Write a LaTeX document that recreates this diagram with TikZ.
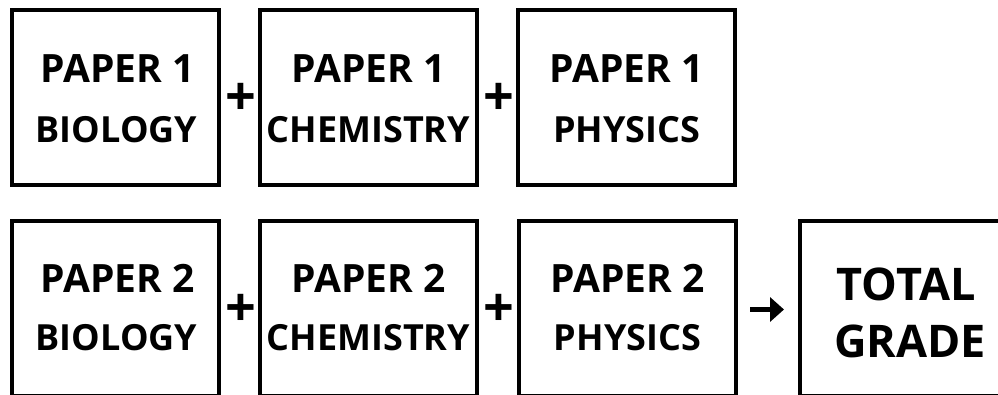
\documentclass[tikz,border=0pt]{standalone}
\usepackage{fontspec}
\setmainfont{Open Sans}
\usetikzlibrary{calc,arrows.meta}
\begin{document}
\begin{tikzpicture}[x=1pt,y=-1pt,
  box/.style={draw=black,line width=4pt,fill=white,rectangle,inner sep=0pt,minimum height=175pt},
  topline/.style={anchor=base,inner sep=0pt,font=\fontsize{39}{39}\selectfont\bfseries},
  subline/.style={anchor=base,inner sep=0pt,font=\fontsize{36}{36}\selectfont\bfseries},
  bigline/.style={anchor=base,inner sep=0pt,font=\fontsize{45}{45}\selectfont\bfseries},
  plus/.style={inner sep=0pt,font=\fontsize{54}{54}\selectfont\bfseries},
  arr/.style={line width=5.5pt,-{Triangle[length=14pt,width=24pt]},shorten <=12pt,shorten >=14pt}]
\useasboundingbox (0,0) rectangle (998,394);
\fill[white] (0,0) rectangle (998,394);
\clip (0,0) rectangle (998,394);
% row 1
\node[box,minimum width=207pt] (b1) at (115.5,97.75) {};
\node[box,minimum width=217pt] (b2) at (368.5,97.75) {};
\node[box,minimum width=217pt] (b3) at (626.75,97.75) {};
% row 2
\node[box,minimum width=207pt] (b4) at (115.5,308.5) {};
\node[box,minimum width=217pt] (b5) at (368.5,308.5) {};
\node[box,minimum width=217pt] (b6) at (627.5,308.5) {};
\node[box,minimum width=216pt] (tot) at (908,308.5) {};
% texts
\node[topline] (t1a) at ($(b1.center)+(2,-15.75)$) {PAPER 1};
\node[subline] (t1b) at ($(b1.center)+(1,44.25)$) {BIOLOGY};
\node[topline] (t2a) at ($(b2.center)+(0,-15.75)$) {PAPER 1};
\node[subline] (t2b) at ($(b2.center)+(0,44.25)$) {CHEMISTRY};
\node[topline] (t3a) at ($(b3.center)+(0,-15.75)$) {PAPER 1};
\node[subline] (t3b) at ($(b3.center)+(0,44.25)$) {PHYSICS};
\node[topline] (t4a) at ($(b4.center)+(2,-16)$) {PAPER 2};
\node[subline] (t4b) at ($(b4.center)+(1,42)$) {BIOLOGY};
\node[topline] (t5a) at ($(b5.center)+(0,-16)$) {PAPER 2};
\node[subline] (t5b) at ($(b5.center)+(0,42)$) {CHEMISTRY};
\node[topline] (t6a) at ($(b6.center)+(0,-16)$) {PAPER 2};
\node[subline] (t6b) at ($(b6.center)+(0,42)$) {PHYSICS};
\node[bigline] (tta) at ($(tot.center)+(-2,-8.5)$) {TOTAL};
\node[bigline] (ttb) at ($(tot.center)+(2,48.5)$) {GRADE};
% plus signs
\node[plus] (p1) at ($(b1.east)!0.5!(b2.west)+(1,1.5)$) {+};
\node[plus] (p2) at ($(b2.east)!0.5!(b3.west)+(1,1.5)$) {+};
\node[plus] (p3) at ($(b4.east)!0.5!(b5.west)+(1,1.5)$) {+};
\node[plus] (p4) at ($(b5.east)!0.5!(b6.west)+(1,1.5)$) {+};
% arrow
\draw[arr] ($(b6.east)+(0,1)$) -- ($(tot.west)+(0,1)$);
\end{tikzpicture}
\end{document}
